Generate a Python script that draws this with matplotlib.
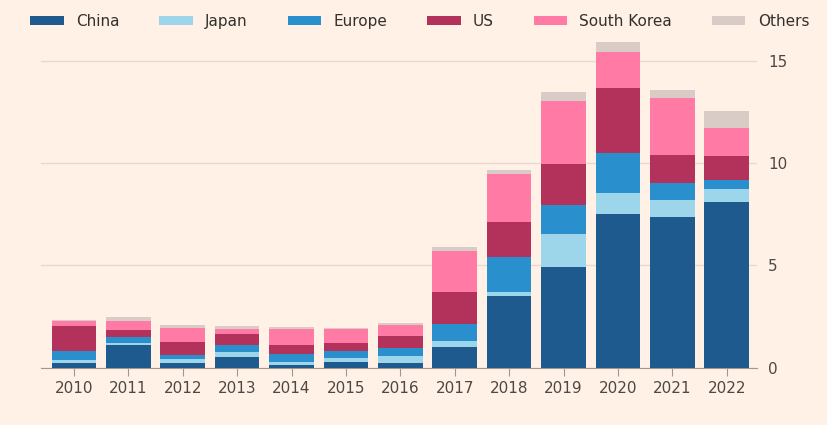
import matplotlib
matplotlib.use("Agg")
import matplotlib.pyplot as plt
import numpy as np

years = [str(y) for y in range(2010, 2023)]
china = [0.23, 1.10, 0.24, 0.52, 0.15, 0.26, 0.21, 1.01, 3.52, 4.92, 7.53, 7.38, 8.10]
japan = [0.16, 0.11, 0.16, 0.25, 0.14, 0.19, 0.37, 0.29, 0.19, 1.59, 1.01, 0.82, 0.63]
europe = [0.43, 0.29, 0.23, 0.34, 0.40, 0.37, 0.36, 0.82, 1.69, 1.45, 1.93, 0.82, 0.44]
us = [1.23, 0.35, 0.60, 0.55, 0.41, 0.36, 0.62, 1.59, 1.74, 1.98, 3.18, 1.35, 1.15]
south_korea = [0.22, 0.41, 0.72, 0.21, 0.79, 0.72, 0.50, 1.98, 2.31, 3.08, 1.79, 2.80, 1.40]
others = [0.05, 0.21, 0.15, 0.16, 0.09, 0.02, 0.13, 0.19, 0.20, 0.44, 0.48, 0.39, 0.82]

series = [("China", china, "#1f5a8f"), ("Japan", japan, "#9dd6ea"),
          ("Europe", europe, "#2a8fcd"), ("US", us, "#b2325b"),
          ("South Korea", south_korea, "#ff7aa5"), ("Others", others, "#d9ccc6")]

bg = "#fff1e5"
fig = plt.figure(figsize=(8.27, 4.25), dpi=100, facecolor=bg)
ax = fig.add_axes([0.05, 0.135, 0.865, 0.78], facecolor=bg)
x = np.arange(len(years))
bottom = np.zeros(len(years))
for name, vals, col in series:
    ax.bar(x, vals, 0.82, bottom=bottom, color=col, label=name, zorder=3)
    bottom += np.array(vals)

ax.set_xlim(-0.6, 12.55)
ax.set_ylim(0, 16.2)
ax.yaxis.tick_right()
ax.set_yticks([0, 5, 10, 15])
ax.grid(axis="y", color="#e6d9ce", lw=1, zorder=0)
for s in ["top", "left", "right"]:
    ax.spines[s].set_visible(False)
ax.spines["bottom"].set_color("#a09890")
ax.set_xticks(x)
ax.set_xticklabels(years)
ax.tick_params(axis="x", length=6, color="#a09890", labelsize=11, labelcolor="#4d4845")
ax.tick_params(axis="y", length=0, labelsize=11, labelcolor="#4d4845", pad=8)

handles, labels = ax.get_legend_handles_labels()
fig.legend(handles, labels, loc="upper left", bbox_to_anchor=(0.02, 1.0), ncol=6,
           frameon=False, fontsize=11, handlelength=2.2, handleheight=0.6,
           columnspacing=2.6, labelcolor="#33302e")
fig.savefig("out.png", dpi=100, facecolor=bg)
